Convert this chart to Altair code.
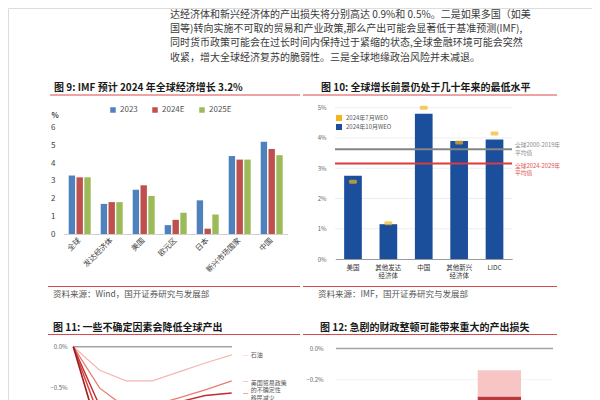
import altair as alt
import pandas as pd

FONT = "Noto Sans CJK SC"
W, H = 584, 392

# ---------------- data ----------------
PARA_LINES = [
    "达经济体和新兴经济体的产出损失将分别高达 0.9%和 0.5%。二是如果多国（如美",
    "国等)转向实施不可取的贸易和产业政策,那么产出可能会显著低于基准预测(IMF),",
    "同时货币政策可能会在过长时间内保持过于紧缩的状态,全球金融环境可能会突然",
    "收紧，增大全球经济复苏的脆弱性。三是全球地缘政治风险并未减退。",
]
TITLE9 = "图 9: IMF 预计 2024 年全球经济增长 3.2%"
TITLE10 = "图 10: 全球增长前景仍处于几十年来的最低水平"
TITLE11 = "图 11: 一些不确定因素会降低全球产出"
TITLE12 = "图 12: 急剧的财政整顿可能带来重大的产出损失"
SOURCE9 = "资料来源：Wind，国开证券研究与发展部"
SOURCE10 = "资料来源：IMF，国开证券研究与发展部"

CAT9 = ["全球", "发达经济体", "美国", "欧元区", "日本", "新兴市场国家", "中国"]
SER9 = ["2023", "2024E", "2025E"]
G2023 = [3.3, 1.7, 2.5, 0.5, 1.9, 4.4, 5.2]
G2024E = [3.2, 1.8, 2.75, 0.8, 0.3, 4.2, 4.8]
G2025E = [3.2, 1.8, 2.15, 1.2, 1.1, 4.2, 4.45]
Y9_TICKS = [0, 1, 2, 3, 4, 5, 6]

CAT10 = ["美国", "其他发达|经济体", "中国", "其他新兴|经济体", "LIDC"]
SER10 = ["2024年7月WEO", "2024年10月WEO"]
WEO_OCT = [2.75, 1.15, 4.8, 3.9, 3.95]
WEO_JUL = [2.55, 1.18, 5.0, 3.85, 4.15]
Y10_TICKS = [0, 1, 2, 3, 4, 5]
AVG_HIST_LABEL = "全球2000-2019年\n平均值"
AVG_HIST = 3.63
AVG_FUT_LABEL = "全球2024-2029年\n平均值"
AVG_FUT = 3.16

X11 = [0, 1, 2, 3, 4, 5, 6]
SER11 = ["石油", "美国贸易政策的不确定性", "移民减少", "金融条件收紧", "关税"]
S11_OIL = [0, -0.29, -0.42, -0.42, -0.31, -0.2, -0.1]
S11_TRADE = [0, -0.51, -0.75, -0.72, -0.63, -0.53, -0.42]
S11_MIGR = [0, -0.73, -0.9, -0.85, -0.68, -0.6, -0.57]
S11_FIN = [0, -0.88, -1.05, -1.0, -0.9, -0.85, -0.8]
S11_TARIFF = [0, -1.1, -1.3, -1.2, -1.05, -0.95, -0.9]
Y11_TICKS = [0, -0.5]
LAB11_OIL = "石油"
LAB11_TRADE = "美国贸易政策\n的不确定性"
LAB11_MIGR = "移民减少"

SEG12 = ["区间", "中值"]
SEG12_TOP = [-0.14, -0.31]
SEG12_BOTTOM = [-0.31, -0.7]
Y12_TICKS = [0, -0.2]

C9 = ["#4F81BD", "#C0504D", "#9BBB59"]
YEL = "#F2B61C"
BLUE = "#1B4E9B"
RED_LINE = "#D9484B"


def P(v):
    return v - 8


def T(s, x, y, size, color, weight="normal", align="left", baseline="middle"):
    return alt.Chart(pd.DataFrame({"t": [s]})).mark_text(
        font=FONT, fontSize=size, color=color, fontWeight=weight,
        align=align, baseline=baseline
    ).encode(text="t:N", x=alt.value(P(x)), y=alt.value(P(y)))


def R(x1, x2, y, color, w=1.0):
    return alt.Chart(pd.DataFrame({"a": [0]})).mark_rule(
        color=color, strokeWidth=w
    ).encode(x=alt.value(P(x1)), x2=alt.value(P(x2)), y=alt.value(P(y)))


layers = []

# ---------------- paragraph ----------------
PARA_Y = [14.5, 28.5, 43, 57.5]
for line, yy in zip(PARA_LINES, PARA_Y):
    layers.append(T(line, 170, yy, 10, "#3a3a3a"))

# ---------------- titles / sources ----------------
layers += [
    T(TITLE9, 54, 88, 10, "#1a1a1a", "bold"),
    R(50, 300, 95, RED_LINE),
    T(TITLE10, 321, 88, 10, "#1a1a1a", "bold"),
    R(303, 557, 95, RED_LINE),
    R(48, 300, 286.5, RED_LINE),
    T(SOURCE9, 53, 293.5, 8.5, "#555555"),
    R(303, 557, 286.5, RED_LINE),
    T(SOURCE10, 318, 293.5, 8.5, "#555555"),
    T(TITLE11, 53, 328, 10, "#1a1a1a", "bold"),
    R(48, 300, 334.5, RED_LINE),
    T(TITLE12, 320, 328, 10, "#1a1a1a", "bold"),
    R(303, 557, 334.5, RED_LINE),
]

# ---------------- figure 9 ----------------
df9 = pd.DataFrame({
    "cat": CAT9 * 3,
    "series": [s for s in SER9 for _ in CAT9],
    "v": G2023 + G2024E + G2025E,
})
y9_scale = alt.Scale(domain=[0, 6], range=[P(234), P(127.7)])
bars9 = alt.Chart(df9).mark_bar().encode(
    x=alt.X("cat:N", sort=CAT9,
            scale=alt.Scale(domain=CAT9, range=[P(63.7), P(287.7)],
                            paddingInner=0.3125, paddingOuter=0.15625),
            axis=alt.Axis(orient="bottom", offset=P(234) - H, labelAngle=315,
                          labelAlign="right", labelBaseline="middle",
                          labelFont=FONT, labelFontSize=7.5, labelColor="#404040",
                          labelPadding=5, ticks=False, domainColor="#D0D0D0",
                          labelOverlap=False, title=None)),
    xOffset=alt.XOffset("series:N", sort=SER9,
                        scale=alt.Scale(domain=SER9, paddingInner=0.18)),
    y=alt.Y("v:Q", scale=y9_scale,
            axis=alt.Axis(orient="left", offset=-P(55), values=Y9_TICKS,
                          ticks=False, domain=False, grid=False, labelFont=FONT,
                          labelFontSize=8, labelColor="#404040", labelPadding=0,
                          title=None)),
    color=alt.Color("series:N",
                    scale=alt.Scale(domain=SER9, range=C9),
                    legend=alt.Legend(orient="none", legendX=P(109), legendY=P(106),
                                      direction="horizontal", symbolType="square",
                                      symbolSize=30, symbolStrokeWidth=0,
                                      labelFont=FONT, labelFontSize=8,
                                      labelColor="#555555", columnPadding=13,
                                      labelOffset=3, title=None)),
)
layers += [bars9, T("%", 55, 116, 7.5, "#404040", "bold", align="center")]

# ---------------- figure 10 ----------------
x10_scale = alt.Scale(domain=CAT10, range=[P(335.3), P(512.2)],
                      paddingInner=0.5, paddingOuter=0.25)
y10_scale = alt.Scale(domain=[0, 5], range=[P(259), P(107.7)])
col10 = alt.Scale(domain=SER10, range=[YEL, BLUE])

grid10 = alt.Chart(pd.DataFrame({"v": Y10_TICKS[1:]})).mark_rule(
    color="#E9E9E9", strokeWidth=0.8
).encode(y=alt.Y("v:Q", scale=y10_scale, axis=None),
         x=alt.value(P(335)), x2=alt.value(P(512)))

df10 = pd.DataFrame({"cat": CAT10, "oct": WEO_OCT, "jul": WEO_JUL,
                     "s_oct": [SER10[1]] * 5, "s_jul": [SER10[0]] * 5})
bars10 = alt.Chart(df10).mark_bar().encode(
    x=alt.X("cat:N", scale=x10_scale,
            axis=alt.Axis(orient="bottom", offset=P(259) - H,
                          labelExpr="split(datum.label, '|')", labelAngle=0,
                          labelAlign="center", labelBaseline="top",
                          labelFont=FONT, labelFontSize=6.5, labelColor="#333333",
                          labelLineHeight=8.5, labelPadding=5, ticks=False,
                          domainColor="#9A9A9A", title=None)),
    y=alt.Y("oct:Q", scale=y10_scale,
            axis=alt.Axis(orient="left", offset=-P(326), values=Y10_TICKS,
                          labelExpr="datum.value + '%'", ticks=False, domain=False,
                          grid=False, labelFont=FONT, labelFontSize=6,
                          labelColor="#666666", labelPadding=0, title=None)),
    color=alt.Color("s_oct:N", scale=col10,
                    legend=alt.Legend(orient="none", legendX=P(336), legendY=P(115),
                                      direction="vertical", symbolType="square",
                                      symbolSize=36, symbolStrokeWidth=0,
                                      labelFont=FONT, labelFontSize=6,
                                      labelColor="#555555", rowPadding=3,
                                      labelOffset=4, title=None)),
)
ticks10 = alt.Chart(df10).mark_tick(thickness=4, size=8, cornerRadius=1.5).encode(
    x=alt.X("cat:N", scale=x10_scale, axis=None),
    y=alt.Y("jul:Q", scale=y10_scale, axis=None),
    color=alt.Color("s_jul:N", scale=col10, legend=None),
)
avg_hist = alt.Chart(pd.DataFrame({"v": [AVG_HIST], "t": [AVG_HIST_LABEL]}))
avg_fut = alt.Chart(pd.DataFrame({"v": [AVG_FUT], "t": [AVG_FUT_LABEL]}))
layers += [
    grid10, bars10, ticks10,
    avg_hist.mark_rule(color="#858585", strokeWidth=2).encode(
        y=alt.Y("v:Q", scale=y10_scale, axis=None),
        x=alt.value(P(335)), x2=alt.value(P(512))),
    avg_fut.mark_rule(color="#DD3B3F", strokeWidth=2).encode(
        y=alt.Y("v:Q", scale=y10_scale, axis=None),
        x=alt.value(P(335)), x2=alt.value(P(512))),
    avg_hist.mark_text(font=FONT, fontSize=5.8, color="#8A8A8A", align="left",
                       baseline="middle", lineBreak="\n", lineHeight=7.5, dy=-4).encode(
        y=alt.Y("v:Q", scale=y10_scale, axis=None), x=alt.value(P(515)), text="t:N"),
    avg_fut.mark_text(font=FONT, fontSize=5.8, color="#E05050", align="left",
                      baseline="middle", lineBreak="\n", lineHeight=7.5, dy=2.5).encode(
        y=alt.Y("v:Q", scale=y10_scale, axis=None), x=alt.value(P(515)), text="t:N"),
]

# ---------------- figure 11 ----------------
y0_11 = P(346.7)
y11_scale = alt.Scale(domain=[-1.5, 0], range=[y0_11 + 1.5 * 81.3, y0_11])
x11_scale = alt.Scale(domain=[0, 6], range=[P(73.3), P(231.7)])
df11 = pd.DataFrame({
    "x": X11 * 5,
    "series": [s for s in SER11 for _ in X11],
    "v": S11_OIL + S11_TRADE + S11_MIGR + S11_FIN + S11_TARIFF,
})
col11 = alt.Scale(domain=SER11, range=["#F4B7B1", "#EA7C73", "#C42A2E", "#D9453E", "#9E1B1F"])
sw11 = alt.Scale(domain=SER11, range=[1.2, 1.6, 2.6, 2.0, 2.6])
zero11 = alt.Chart(pd.DataFrame({"v": [0]})).mark_rule(color="#A3A3A3", strokeWidth=1.6).encode(
    y=alt.Y("v:Q", scale=y11_scale,
            axis=alt.Axis(orient="left", offset=-P(67), values=Y11_TICKS,
                          labelExpr="format(datum.value, '.1f') + '%'", ticks=False,
                          domain=False, grid=False, labelFont=FONT, labelFontSize=6,
                          labelColor="#666666", labelPadding=0, title=None)),
    x=alt.value(P(73)), x2=alt.value(P(232)))
lines11 = alt.Chart(df11).mark_line().encode(
    x=alt.X("x:Q", scale=x11_scale, axis=None),
    y=alt.Y("v:Q", scale=y11_scale, axis=None),
    color=alt.Color("series:N", scale=col11, legend=None),
    strokeWidth=alt.StrokeWidth("series:N", scale=sw11, legend=None),
    order=alt.Order("x:Q"),
)
layers += [zero11, lines11]


def lab11(name, text, v, dy):
    d = alt.Chart(pd.DataFrame({"x": [6], "v": [v], "series": [name], "t": [text]}))
    dash = d.mark_text(text="—", fontSize=6.5, dx=14, dy=0, font=FONT).encode(
        x=alt.X("x:Q", scale=x11_scale, axis=None),
        y=alt.Y("v:Q", scale=y11_scale, axis=None),
        color=alt.Color("series:N", scale=col11, legend=None))
    name_t = d.mark_text(font=FONT, fontSize=6, color="#555555", align="left",
                         baseline="middle", lineBreak="\n", lineHeight=7.5,
                         dx=19, dy=dy).encode(
        x=alt.X("x:Q", scale=x11_scale, axis=None),
        y=alt.Y("v:Q", scale=y11_scale, axis=None),
        text="t:N")
    return [dash, name_t]


layers += lab11(SER11[0], LAB11_OIL, S11_OIL[-1], 0)
layers += lab11(SER11[1], LAB11_TRADE, S11_TRADE[-1], 1.8)
layers += lab11(SER11[2], LAB11_MIGR, S11_MIGR[-1], 5)

# ---------------- figure 12 ----------------
y0_12 = P(348.5)
y12_scale = alt.Scale(domain=[-1.0, 0], range=[y0_12 + 156, y0_12])
grid12 = alt.Chart(pd.DataFrame({"v": Y12_TICKS[1:]})).mark_rule(
    color="#EFEFEF", strokeWidth=0.8
).encode(y=alt.Y("v:Q", scale=y12_scale, axis=None),
         x=alt.value(P(336)), x2=alt.value(P(553)))
zero12 = alt.Chart(pd.DataFrame({"v": [0]})).mark_rule(color="#A3A3A3", strokeWidth=1.6).encode(
    y=alt.Y("v:Q", scale=y12_scale,
            axis=alt.Axis(orient="left", offset=-P(323), values=Y12_TICKS,
                          labelExpr="format(datum.value, '.1f') + '%'", ticks=False,
                          domain=False, grid=False, labelFont=FONT, labelFontSize=6,
                          labelColor="#666666", labelPadding=0, title=None)),
    x=alt.value(P(336)), x2=alt.value(P(553)))
df12 = pd.DataFrame({"cat": ["c", "c"], "seg": SEG12, "top": SEG12_TOP, "bottom": SEG12_BOTTOM})
bars12 = alt.Chart(df12).mark_bar().encode(
    x=alt.X("cat:N", scale=alt.Scale(domain=["c"], range=[P(477.7), P(521)],
                                     paddingInner=0, paddingOuter=0), axis=None),
    y=alt.Y("top:Q", scale=y12_scale, axis=None),
    y2="bottom:Q",
    color=alt.Color("seg:N", scale=alt.Scale(domain=SEG12, range=["#F7C5C4", "#B9393B"]),
                    legend=None),
)
layers += [grid12, bars12, zero12]

chart = alt.layer(*layers).resolve_scale(
    x="independent", y="independent", color="independent", strokeWidth="independent"
).properties(
    width=W, height=H, autosize=alt.AutoSizeParams(type="none"), padding=0
).configure_view(stroke=None).configure(font=FONT)

chart.save("out.html", embed_options={"renderer": "svg", "actions": False})
